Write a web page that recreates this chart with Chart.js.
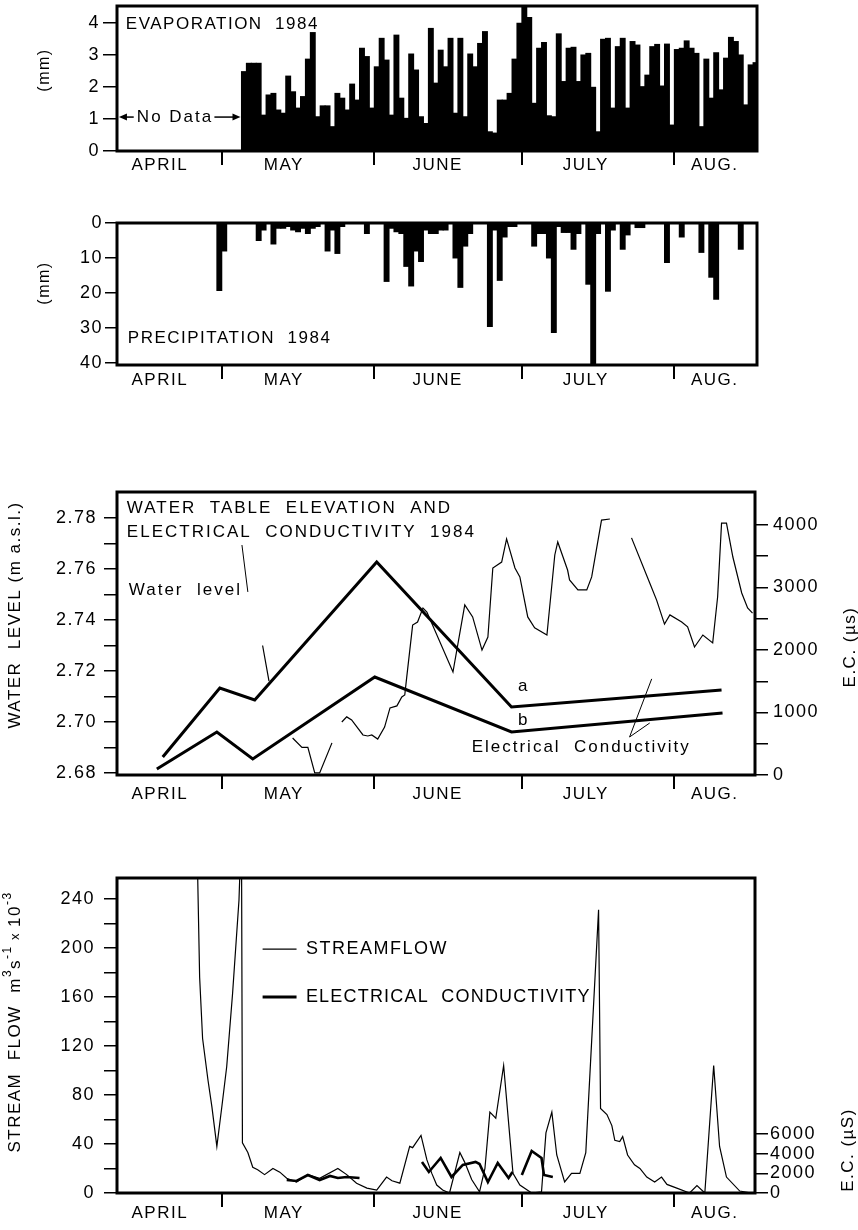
<!DOCTYPE html>
<html lang="en">
<head>
<meta charset="UTF-8">
<title>Evaporation, precipitation, water table and streamflow 1984</title>
<script src="https://cdn.jsdelivr.net/npm/chart.js@4.4.1/dist/chart.umd.min.js"></script>
<style>
  body { margin: 0; background: #fff; }
  .panel { position: absolute; left: 0; width: 858px; }
</style>
</head>
<body>
<div class="panel" style="top:0;height:191px"><canvas id="evap"></canvas></div>
<div class="panel" style="top:205px;height:200px"><canvas id="precip"></canvas></div>
<div class="panel" style="top:470px;height:345px"><canvas id="water"></canvas></div>
<div class="panel" style="top:860px;height:370px"><canvas id="stream"></canvas></div>
<script>
// x values are day numbers, 0 = 1 April 1984
const monthNames = ['APRIL', 'MAY', 'JUNE', 'JULY', 'AUG.'];
const monthLabelDays = [16.9, 42.1, 73.4, 103.5, 129.7];
const monthEdges = [29.5, 60.5, 90.5, 121.5];

// evaporation (mm), daily from day 34
const evapStart = 34;
const evapMm = [2.48, 2.74, 2.74, 2.74, 1.12, 1.75, 1.80, 1.28, 1.18, 2.34,
  1.85, 1.34, 1.70, 2.87, 3.70, 1.07, 1.41, 1.41, 0.76, 1.80,
  1.65, 1.28, 2.09, 1.59, 3.21, 2.95, 1.34, 2.63, 3.52, 2.84,
  1.12, 3.62, 1.65, 1.02, 3.03, 2.53, 1.07, 0.86, 3.83, 2.12,
  3.15, 2.63, 3.52, 1.18, 3.52, 1.07, 3.03, 2.63, 3.36, 3.73,
  0.60, 0.56, 1.59, 1.59, 1.80, 2.87, 3.99, 4.50, 4.17, 1.49,
  3.21, 3.39, 1.10, 1.07, 3.66, 2.17, 3.21, 3.24, 2.17, 3.00,
  3.05, 1.99, 0.60, 3.49, 3.52, 1.34, 3.26, 3.52, 1.34, 3.42,
  3.31, 2.01, 2.37, 3.26, 3.33, 2.03, 3.34, 0.81, 3.17, 3.21,
  3.44, 3.21, 3.05, 0.76, 2.87, 1.65, 3.07, 1.91, 2.90, 3.55,
  3.42, 3.00, 1.44, 2.69, 2.76];
const evapTicks = [0, 1, 2, 3, 4];

// precipitation (mm)
const precipDays = [29, 30, 37, 38, 40, 41, 42, 43, 44, 45, 46, 47, 48, 49, 51, 52, 53, 54, 59,
  63, 64, 65, 66, 67, 68, 69, 70, 71, 72, 73, 74, 75, 77, 78, 79, 80, 84, 85, 86, 87, 88, 89,
  93, 94, 95, 96, 97, 98, 99, 100, 101, 102, 104, 105, 106, 108, 109, 111, 112, 114, 115,
  120, 123, 127, 129, 130, 135];
const precipMm = [19.3, 8, 5, 2, 6, 1.5, 1.5, 1, 2, 2.5, 1.5, 3, 1.5, 1, 8, 2, 8.7, 1, 3,
  16.7, 1.5, 2.5, 3, 12.4, 18, 8, 11, 2, 3, 3, 2, 2, 10, 18.4, 6.6, 3, 29.6, 2, 16.4, 4, 1, 1,
  6.6, 3, 3, 10, 31.3, 1, 2.7, 2.7, 7.5, 3, 17.5, 40.6, 3, 19.5, 2, 7.5, 3.4, 1.3, 1.3,
  11.3, 4, 8.4, 15.5, 21.8, 7.5];
const precipTicks = [0, 5, 10, 15, 20, 25, 30, 35, 40];

// water level (m a.s.l.), null = no record
const wlDays = [37.8, 39.1, 41,
  43.9, 45.8, 47.0, 48.4, 49.4, 51.9, 53,
  53.9, 54.9, 55.9, 58.2, 59.2, 60.0, 61.2, 62.6, 63.7, 65.1,
  66.1, 66.7, 67.1, 68.3, 69.3, 70.4, 71.2, 76.5, 78.9, 80.5,
  82.4, 83.6, 84.6, 86.4, 87.4, 89.1, 90.1, 91.7, 93.1, 95.6,
  97.2, 97.8, 99.8, 100.2, 101.9, 103.7, 104.7, 106.7, 108.4, 110,
  112.8, 116.5, 117.9, 119.5, 120.6, 123.0, 124.2, 125.6, 127.3, 129.3,
  130.3, 131.1, 132.1, 133.4, 135.2, 136.4, 137.4];
const wlLevel = [2.730, 2.716, null,
  2.6937, 2.690, 2.690, 2.680, 2.680, 2.6918, null,
  2.700, 2.702, 2.7008, 2.6949, 2.6945, 2.6949, 2.6933, 2.698, 2.7055, 2.7063,
  2.7098, 2.7106, 2.7176, 2.738, 2.7392, 2.7447, 2.7431, 2.7196, 2.7459, 2.7412,
  2.7282, 2.7333, 2.7604, 2.7627, 2.7718, 2.7604, 2.7569, 2.7412, 2.7369, 2.7341,
  2.7655, 2.7706, 2.7596, 2.7557, 2.7518, 2.7518, 2.7569, 2.7792, 2.7796, null,
  2.7722, 2.7545, 2.7478, 2.7384, 2.742, 2.7392, 2.7373, 2.7294, 2.7341, 2.731,
  2.749, 2.778, 2.778, 2.7647, 2.7506, 2.7447, 2.7427];
const wlTicks = [2.68, 2.69, 2.70, 2.71, 2.72, 2.73, 2.74, 2.75, 2.76, 2.77, 2.78];

// groundwater E.C. (µs), wells a and b
const ecADays = [17.5, 29.1, 36.2, 61.0, 88.4, 131.1];
const ecA = [288, 1392, 1200, 3408, 1088, 1360];
const ecBDays = [16.3, 28.5, 35.8, 60.6, 88.4, 131.3];
const ecB = [96, 688, 256, 1568, 688, 992];
const ecGwTicks = [0, 500, 1000, 1500, 2000, 2500, 3000, 3500, 4000];

// leader lines of the labels (water level units)
const leadWlDays = [33.6, 34.8];
const leadWl = [2.7694, 2.751];
const leadEcADays = [112.4, 116.9];
const leadEcA = [2.6941, 2.7169];
const leadEcBDays = [112.4, 116.5];
const leadEcB = [2.6941, 2.6996];

// streamflow (m3 s-1 x 10-3)
const sfDays = [24.4, 25.0, 25.6, 26.7, 27.5, 28.5, 29.5, 30.5, 31.7, 33.0,
  33.5, 33.7, 34.8, 35.8, 36.8, 38.2, 39.9, 41.3, 42.7, 44.7,
  47.0, 49.4, 53.1, 54.9, 56.9, 59.0, 61.0, 63.0, 64.1, 65.7,
  67.7, 68.3, 70.0, 71.2, 72.2, 73.2, 74.4, 75.8, 77.9, 78.9,
  80.3, 81.9, 83.0, 84.0, 85.2, 86.8, 88.7, 90.1, 92.5, 94.5,
  95.4, 96.6, 97.6, 99.2, 100.6, 102.3, 103.5, 106.1, 106.5, 107.8,
  108.8, 109.4, 110.4, 111.0, 112.0, 113.4, 114.5, 115.9, 117.5, 118.9,
  120.0, 122.0, 124.6, 126.1, 127.7, 129.5, 130.7, 132.1, 134.8, 137.2];
const sfFlow = [300, 176, 126, 92, 70, 38, 70, 103, 163, 239,
  300, 41, 33, 21, 19, 15, 20, 17, 12, 9,
  15, 12, 20, 15, 8, 4, 2.4, 13, 10, 8,
  38, 37, 47, 27, 16, 6.5, 2.4, 0, 33, 25,
  11, 1, 20, 66, 61, 104, 16, 6.5, 0, 1,
  49, 66, 31, 9, 16, 16, 33, 231, 69, 64,
  55, 43, 42, 46, 31, 23, 20, 13, 9, 13,
  7, 4, 0, 6, 0, 104, 38, 13, 1.6, 0];
const sfTicks = [0, 20, 40, 60, 80, 100, 120, 140, 160, 180, 200, 220, 240];

// stream E.C. (µS)
const ecSfDays = [42.7, 44.7, 47.0, 49.4, 51.5, 53.1, 54.9, 57.5, 63,
  70.2, 71.6, 74.0, 76.2, 78.5, 81.1, 81.9, 83.6, 85.6, 87.8, 88.6, 89.5,
  90.5, 92.5, 94.5, 95.0, 96.8];
const ecSf = [1322, 1220, 1830, 1322, 1729, 1525, 1627, 1525, null,
  3153, 2136, 3559, 1627, 2848, 3153, 2949, 1119, 3051, 1525, 2136, null,
  1830, 4271, 3559, 1830, 1627];
const ecSfTicks = [0, 2000, 4000, 6000];

const sans = "'Liberation Sans', Arial, Helvetica, sans-serif";
Chart.defaults.font.family = sans;
Chart.defaults.color = '#000';

// letter spacing for all text + the box round each plot
Chart.register({
  id: 'ink',
  beforeDraw(chart) { chart.ctx.letterSpacing = '1.5px'; },
  afterDatasetsDraw(chart) {
    const { ctx, chartArea: a } = chart;
    ctx.save();
    ctx.lineWidth = 3;
    ctx.strokeStyle = '#000';
    ctx.strokeRect(a.left, a.top, a.right - a.left, a.bottom - a.top);
    ctx.restore();
  }
});

const pts = (xs, ys) => xs.map((x, i) => ({ x: x, y: ys[i] }));

function monthAxis(max, height, pad) {
  const ticks = monthEdges.concat(monthLabelDays).sort((a, b) => a - b);
  return {
    type: 'linear', position: 'bottom', min: 8.2, max: max, offset: false,
    afterBuildTicks: s => { s.ticks = ticks.map(v => ({ value: v })); },
    afterFit: s => { s.height = height; s.paddingLeft = 0; s.paddingRight = 0; },
    border: { display: false },
    grid: {
      offset: false, drawOnChartArea: false, tickLength: 14, lineWidth: 2,
      color: c => (c.tick && monthEdges.includes(c.tick.value)) ? '#000' : 'rgba(0,0,0,0)'
    },
    ticks: {
      autoSkip: false, maxRotation: 0, padding: pad, font: { size: 17 },
      callback: v => { const i = monthLabelDays.indexOf(v); return i < 0 ? '' : monthNames[i]; }
    }
  };
}

function valueAxis(o) {
  return {
    type: 'linear', position: o.position || 'left', min: o.min, max: o.max, reverse: !!o.reverse,
    afterBuildTicks: s => { s.ticks = o.ticks.map(v => ({ value: v })); },
    afterFit: s => { s.width = o.width; s.paddingTop = 0; s.paddingBottom = 0; },
    border: { display: false },
    grid: { drawOnChartArea: false, tickLength: o.tickLength, lineWidth: 1.5, color: '#000' },
    ticks: { padding: o.pad, font: { size: 18 }, callback: o.label || (v => v) }
  };
}

function options(pad, scales) {
  return {
    responsive: true, maintainAspectRatio: false, animation: false, events: [],
    layout: { padding: pad },
    plugins: { legend: { display: false }, tooltip: { enabled: false } },
    scales: scales
  };
}

// texts placed on the data scales, axis titles placed on the canvas
function annotations(cfg) {
  return {
    id: 'annotations',
    afterDraw(chart) {
      const ctx = chart.ctx;
      const X = v => chart.scales.x.getPixelForValue(v);
      const Y = (v, ax) => chart.scales[ax || 'y'].getPixelForValue(v);
      ctx.save();
      ctx.fillStyle = '#000';
      ctx.strokeStyle = '#000';
      (cfg.notes || []).forEach(n => {
        ctx.font = (n.size || 17) + 'px ' + sans;
        ctx.letterSpacing = (n.spacing === undefined ? 2 : n.spacing) + 'px';
        ctx.textAlign = n.align || 'left';
        ctx.textBaseline = 'middle';
        ctx.fillText(n.text, X(n.x), Y(n.y, n.axis));
      });
      (cfg.arrows || []).forEach(a => {
        const x1 = X(a[0]), x2 = X(a[1]), y = Y(a[2]);
        const d = Math.sign(x2 - x1);
        ctx.lineWidth = 1.5;
        ctx.beginPath(); ctx.moveTo(x1, y); ctx.lineTo(x2 - d * 6, y); ctx.stroke();
        ctx.beginPath(); ctx.moveTo(x2, y); ctx.lineTo(x2 - d * 8, y - 3.5); ctx.lineTo(x2 - d * 8, y + 3.5);
        ctx.closePath(); ctx.fill();
      });
      (cfg.keys || []).forEach(k => {
        ctx.lineWidth = k.width;
        ctx.beginPath(); ctx.moveTo(X(k.x[0]), Y(k.y)); ctx.lineTo(X(k.x[1]), Y(k.y)); ctx.stroke();
      });
      (cfg.titles || []).forEach(t => {
        ctx.save();
        ctx.translate(t.cx, t.cy);
        ctx.rotate(-Math.PI / 2);
        ctx.textAlign = 'left';
        ctx.textBaseline = 'middle';
        ctx.letterSpacing = '1.5px';
        const fontOf = r => (r.sup ? 12 : r.small ? 13 : (t.size || 17)) + 'px ' + sans;
        let w = 0;
        t.runs.forEach(r => { ctx.font = fontOf(r); w += ctx.measureText(r.t).width; });
        let x = -w / 2;
        t.runs.forEach(r => {
          ctx.font = fontOf(r);
          ctx.fillText(r.t, x, r.sup ? -7 : 0);
          x += ctx.measureText(r.t).width;
        });
        ctx.restore();
      });
      ctx.restore();
    }
  };
}

// 1 - evaporation
new Chart(document.getElementById('evap'), {
  type: 'bar',
  data: { datasets: [{
    data: evapMm.map((v, i) => ({ x: evapStart + i, y: v })),
    backgroundColor: '#000', borderWidth: 0, barPercentage: 1, categoryPercentage: 1, inflateAmount: 0.5
  }] },
  options: options({ top: 6, right: 101 }, {
    x: monthAxis(138.3, 40, -10),
    y: valueAxis({ min: 0, max: 4.53, ticks: evapTicks, width: 117, tickLength: 14, pad: 3 })
  }),
  plugins: [annotations({
    notes: [
      { text: 'EVAPORATION  1984', x: 10.0, y: 3.97, spacing: 1.5 },
      { text: 'No Data', x: 20.0, y: 1.06, align: 'center' }
    ],
    arrows: [[11.6, 8.6, 1.06], [28.0, 33.3, 1.06]],
    titles: [{ cx: 45, cy: 70, size: 16, runs: [{ t: '(mm)' }] }]
  })]
});

// 2 - precipitation
new Chart(document.getElementById('precip'), {
  type: 'bar',
  data: { datasets: [{
    data: pts(precipDays, precipMm),
    backgroundColor: '#000', borderWidth: 0, barPercentage: 1, categoryPercentage: 1, inflateAmount: 0.5
  }] },
  options: options({ top: 18, right: 101 }, {
    x: monthAxis(138.3, 40, -9),
    y: valueAxis({ min: 0, max: 40.6, reverse: true, ticks: precipTicks, width: 117, tickLength: 12, pad: 2,
      label: v => (v % 10 === 0 ? v : '') })
  }),
  plugins: [annotations({
    notes: [{ text: 'PRECIPITATION  1984', x: 10.4, y: 32.9, spacing: 1.5 }],
    titles: [{ cx: 45, cy: 78, size: 16, runs: [{ t: '(mm)' }] }]
  })]
});

// 3 - water table elevation and electrical conductivity
const thin = { borderColor: '#000', borderWidth: 1.2, pointRadius: 0, tension: 0, spanGaps: false, yAxisID: 'y' };
const thick = { borderColor: '#000', borderWidth: 3, pointRadius: 0, tension: 0, yAxisID: 'y2', borderJoinStyle: 'miter' };
new Chart(document.getElementById('water'), {
  type: 'line',
  data: { datasets: [
    Object.assign({ data: pts(wlDays, wlLevel) }, thin),
    Object.assign({ data: pts(leadWlDays, leadWl) }, thin, { borderWidth: 1 }),
    Object.assign({ data: pts(leadEcADays, leadEcA) }, thin, { borderWidth: 1 }),
    Object.assign({ data: pts(leadEcBDays, leadEcB) }, thin, { borderWidth: 1 }),
    Object.assign({ data: pts(ecADays, ecA) }, thick),
    Object.assign({ data: pts(ecBDays, ecB) }, thick)
  ] },
  options: options({ top: 22 }, {
    x: monthAxis(137.9, 40, -5),
    y: valueAxis({ min: 2.6792, max: 2.7902, ticks: wlTicks, width: 117, tickLength: 13, pad: 7,
      label: v => (Math.round(v * 100) % 2 === 0 ? v.toFixed(2) : '') }),
    y2: valueAxis({ position: 'right', min: 0, max: 4528, ticks: ecGwTicks, width: 103, tickLength: 13, pad: 5,
      label: v => (v % 1000 === 0 ? v : '') })
  }),
  plugins: [annotations({
    notes: [
      { text: 'WATER  TABLE  ELEVATION  AND', x: 10.2, y: 2.7839 },
      { text: 'ELECTRICAL  CONDUCTIVITY  1984', x: 10.2, y: 2.7745 },
      { text: 'Water  level', x: 10.6, y: 2.7518 },
      { text: 'a', x: 90.9, y: 2.7141, align: 'center' },
      { text: 'b', x: 90.9, y: 2.7008, align: 'center' },
      { text: 'Electrical  Conductivity', x: 80.3, y: 2.6902 }
    ],
    titles: [
      { cx: 15, cy: 145, runs: [{ t: 'WATER  LEVEL (m a.s.l.)' }] },
      { cx: 850, cy: 177, runs: [{ t: 'E.C. (µs)' }] }
    ]
  })]
});

// 4 - streamflow and electrical conductivity
new Chart(document.getElementById('stream'), {
  type: 'line',
  data: { datasets: [
    Object.assign({ data: pts(sfDays, sfFlow) }, thin),
    Object.assign({ data: pts(ecSfDays, ecSf) }, thick, { borderWidth: 2.6 })
  ] },
  options: options({ top: 18 }, {
    x: monthAxis(137.9, 37, -4),
    y: valueAxis({ min: 0, max: 257, ticks: sfTicks, width: 117, tickLength: 13, pad: 9,
      label: v => (v % 40 === 0 ? v : '') }),
    y2: valueAxis({ position: 'right', min: 0, max: 32000, ticks: ecSfTicks, width: 103, tickLength: 13, pad: 2 })
  }),
  plugins: [annotations({
    notes: [
      { text: 'STREAMFLOW', x: 46.6, y: 199, size: 18, spacing: 1.5 },
      { text: 'ELECTRICAL  CONDUCTIVITY', x: 46.6, y: 160, size: 18, spacing: 1.2 }
    ],
    keys: [{ x: [37.8, 44.7], y: 199, width: 1.3 }, { x: [37.8, 44.7], y: 160, width: 3 }],
    titles: [
      { cx: 15, cy: 162, runs: [{ t: 'STREAM  FLOW  m' }, { t: '3', sup: true }, { t: 's' }, { t: '-1', sup: true },
        { t: ' x ', small: true }, { t: '10' }, { t: '-3', sup: true }] },
      { cx: 848, cy: 290, runs: [{ t: 'E.C. (µS)' }] }
    ]
  })]
});
</script>
</body>
</html>
